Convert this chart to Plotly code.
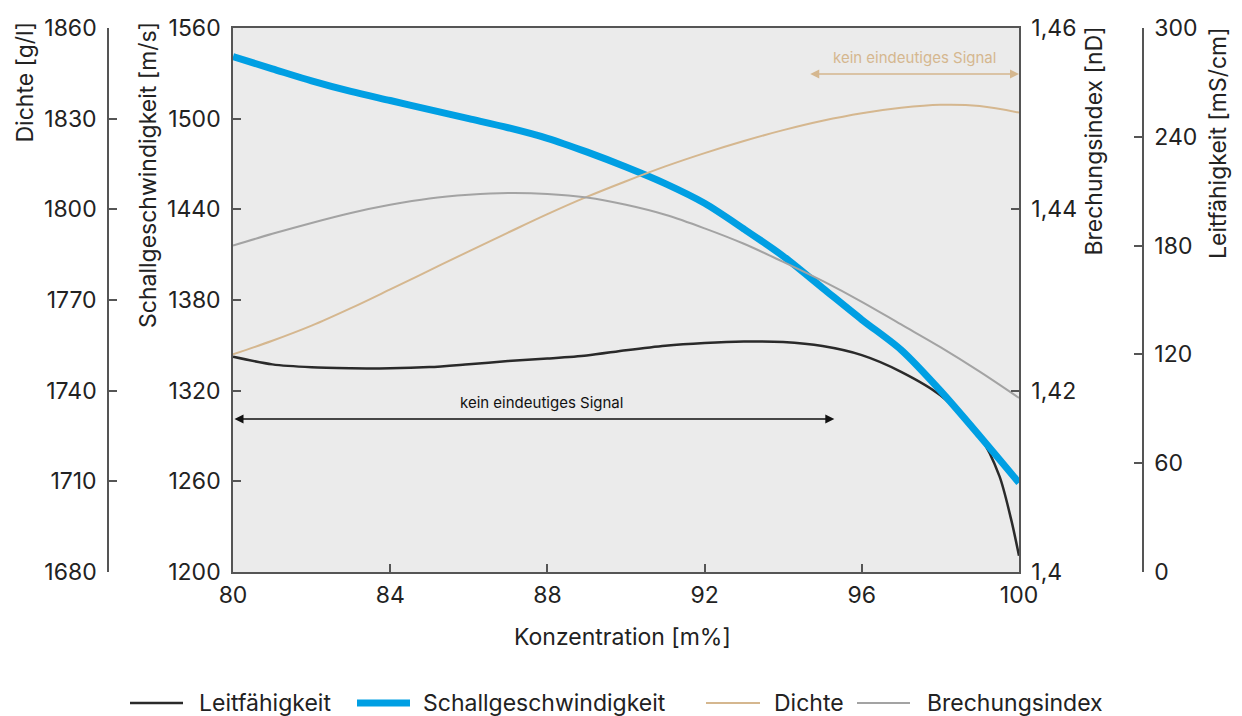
import plotly.graph_objects as go

# ---- data ----
konz = [80, 81, 82, 83, 84, 85, 86, 87, 88, 89, 90, 91, 92, 93, 94, 95, 96, 97, 98, 99, 100]
schall = [1541, 1533, 1525, 1518, 1512, 1506, 1500, 1494, 1487, 1478, 1468, 1457, 1444,
          1427, 1409, 1388, 1367, 1347, 1320, 1290, 1259]
dichte = [1752, 1756.5, 1761.5, 1767.3, 1773.5, 1779.8, 1786.1, 1792.3, 1798.4, 1804.1, 1809.3,
          1814.2, 1818.6, 1822.6, 1826.2, 1829.3, 1831.8, 1833.6, 1834.6, 1834.2, 1832]
brechung = [1.4360, 1.4373, 1.4385, 1.4396, 1.4405, 1.4412, 1.4416, 1.4418, 1.4417, 1.4413,
            1.4405, 1.4394, 1.4379, 1.4362, 1.4342, 1.4321, 1.4298, 1.4273, 1.4248, 1.4221, 1.4192]
konz_leit = [80, 81, 82, 83, 84, 85, 86, 87, 88, 89, 90, 91, 92, 93, 94, 95, 96, 97, 98, 99,
             99.5, 99.8, 100]
leit = [118.7, 114.5, 112.9, 112.4, 112.3, 113.0, 114.6, 116.3, 117.7, 119.4, 122.3, 124.8,
        126.3, 127.1, 126.8, 124.6, 119.6, 110.4, 97.4, 75, 53, 29, 9]

x_ticks = [80, 84, 88, 92, 96, 100]
dichte_ticks = [1680, 1710, 1740, 1770, 1800, 1830, 1860]
schall_ticks = [1200, 1260, 1320, 1380, 1440, 1500, 1560]
brechung_ticks = [1.40, 1.42, 1.44, 1.46]
brechung_labels = ["1,4", "1,42", "1,44", "1,46"]
leit_ticks = [0, 60, 120, 180, 240, 300]
series_names = ["Leitfähigkeit", "Schallgeschwindigkeit", "Dichte", "Brechungsindex"]

FONT = "Inter"
TXT = "#222222"
AX = "#555555"
BLACK = "#2a2a2a"
BLUE = "#009FE3"
BEIGE = "#D5B78F"
GRAY = "#A3A3A3"
colors = [BLACK, BLUE, BEIGE, GRAY]
widths = [2.5, 7, 2, 2]

fig = go.Figure()
fig.add_trace(go.Scatter(x=konz_leit, y=leit, name=series_names[0], yaxis="y",
                         mode="lines", line=dict(color=BLACK, width=2.5, shape="spline", smoothing=0.8)))
fig.add_trace(go.Scatter(x=konz, y=schall, name=series_names[1], yaxis="y2",
                         mode="lines", line=dict(color=BLUE, width=7, shape="spline", smoothing=0.8)))
fig.add_trace(go.Scatter(x=konz, y=dichte, name=series_names[2], yaxis="y3",
                         mode="lines", line=dict(color=BEIGE, width=2, shape="spline", smoothing=1)))
fig.add_trace(go.Scatter(x=konz, y=brechung, name=series_names[3], yaxis="y4",
                         mode="lines", line=dict(color=GRAY, width=2, shape="spline", smoothing=1)))

W, H = 1242, 716
xd = [233 / W, 1019 / W]
yd = [1 - 572 / H, 1 - 28 / H]
tickfont = dict(family=FONT, size=23, color=TXT)
common = dict(showgrid=False, zeroline=False, showline=True, linecolor=AX, linewidth=1.5,
              ticks="inside", ticklen=8, tickcolor=AX, tickwidth=1.5, tickfont=tickfont,
              ticklabelstandoff=6, domain=yd, automargin=False)

fig.update_layout(
    template="none",
    width=W, height=H,
    margin=dict(l=0, r=0, t=0, b=0, pad=0),
    paper_bgcolor="white", plot_bgcolor="#EBEBEB",
    font=dict(family=FONT, color=TXT),
    showlegend=False,
    xaxis=dict(domain=xd, range=[80, 100], tickvals=x_ticks, showgrid=False, zeroline=False,
               showline=True, linecolor=AX, linewidth=1.5, mirror=True, ticks="inside", ticklen=8,
               tickcolor=AX, tickwidth=1.5, tickfont=tickfont, ticklabelstandoff=2,
               automargin=False),
    yaxis=dict(range=[0, 300], tickvals=leit_ticks, side="right", anchor="free",
               position=1143 / W, **common),
    yaxis2=dict(range=[1200, 1560], tickvals=schall_ticks, side="left", anchor="x",
                overlaying="y", **common),
    yaxis3=dict(range=[1680, 1860], tickvals=dichte_ticks, side="left", anchor="free",
                position=108 / W, overlaying="y", **common),
    yaxis4=dict(range=[1.40, 1.46], tickvals=brechung_ticks, ticktext=brechung_labels,
                side="right", anchor="x", overlaying="y", **common),
)

# axis titles
title_font = dict(family=FONT, size=23, color=TXT)
for txt, xp, ytop in [("Dichte [g/l]", 24, 20), ("Schallgeschwindigkeit [m/s]", 148, 20),
                      ("Brechungsindex [nD]", 1094, 25), ("Leitfähigkeit [mS/cm]", 1218, 25)]:
    fig.add_annotation(text=txt, xref="paper", yref="paper", x=xp / W, y=1 - ytop / H,
                       xanchor="center", yanchor="top", textangle=-90, showarrow=False,
                       font=title_font)
fig.add_annotation(text="Konzentration [m%]", xref="paper", yref="paper", x=622 / W,
                   y=1 - 637 / H, xanchor="center", yanchor="middle", showarrow=False,
                   font=title_font)

# "kein eindeutiges Signal" markers (positions in Konzentration / Leitfähigkeit units)
fig.add_annotation(x=95.3, y=84.4, ax=80, ay=84.4, xref="x", yref="y", axref="x", ayref="y",
                   text="", showarrow=True, arrowhead=2, arrowside="end+start", arrowsize=1.2,
                   arrowwidth=1.5, arrowcolor="#111111", standoff=0, startstandoff=0)
fig.add_annotation(x=87.85, y=93.5, xref="x", yref="y", text="kein eindeutiges Signal",
                   showarrow=False, font=dict(family=FONT, size=15, color="#111111"))
fig.add_annotation(x=100, y=274.6, ax=94.65, ay=274.6, xref="x", yref="y", axref="x", ayref="y",
                   text="", showarrow=True, arrowhead=2, arrowside="end+start", arrowsize=1.2,
                   arrowwidth=1.5, arrowcolor=BEIGE, standoff=0, startstandoff=0)
fig.add_annotation(x=97.35, y=284, xref="x", yref="y", text="kein eindeutiges Signal",
                   showarrow=False, font=dict(family=FONT, size=15, color=BEIGE))

# legend row (sample line + label per series)
leg_y = 1 - 703 / H
leg_line_x = [(130, 183), (357, 410), (706, 760), (857, 910)]
leg_text_x = [197, 421, 772, 925]
for name, col, wd, (x0, x1), tx in zip(series_names, colors, widths, leg_line_x, leg_text_x):
    fig.add_shape(type="line", xref="paper", yref="paper", x0=x0 / W, x1=x1 / W,
                  y0=leg_y, y1=leg_y, line=dict(color=col, width=wd))
    fig.add_annotation(text=name, xref="paper", yref="paper", x=tx / W, y=leg_y,
                       xanchor="left", yanchor="middle", showarrow=False,
                       font=dict(family=FONT, size=23, color=TXT))

fig.write_html("out.html")
